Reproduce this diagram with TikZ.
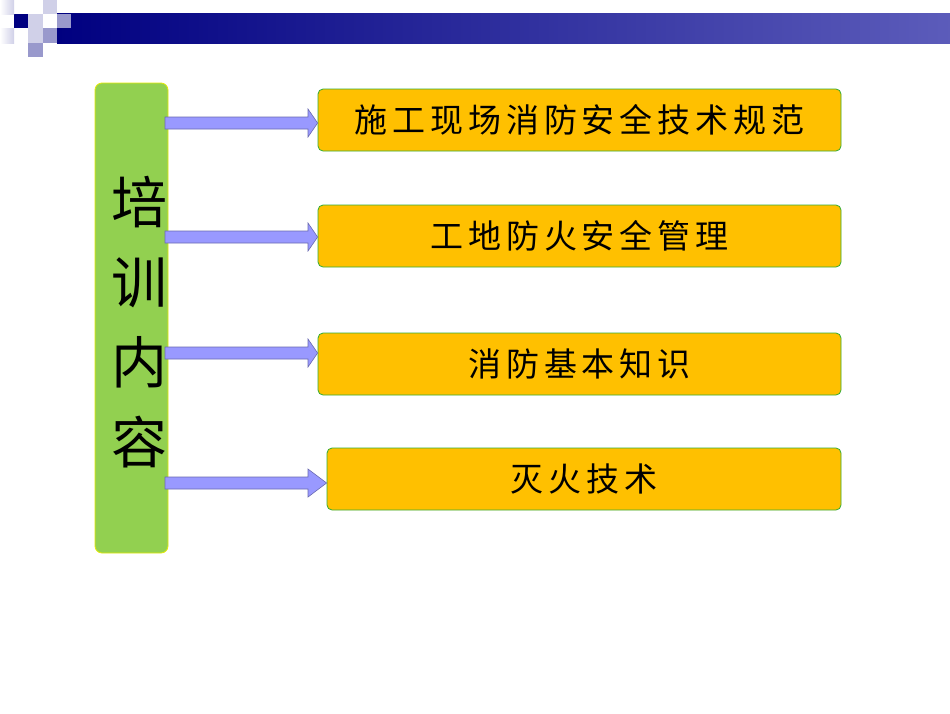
\documentclass[tikz,border=0pt]{standalone}
\usepackage{fontspec}
\newfontfamily\cjk[LetterSpace=15]{Noto Sans CJK SC}
\newfontfamily\cjkv{Noto Sans CJK SC}
\usetikzlibrary{shapes.arrows}
\definecolor{navy}{HTML}{000080}
\definecolor{lav}{HTML}{D0D0E8}
\definecolor{midlav}{HTML}{9999CC}
\definecolor{orng}{HTML}{FFC000}
\definecolor{grn}{HTML}{92D050}
\definecolor{arr}{HTML}{9999FF}
\tikzset{
 topic/.style={draw=green!60!black!80, fill=orng, rounded corners=5pt, line width=0.8pt, font=\cjk\fontsize{33}{33}\selectfont, inner sep=0pt},
 arw/.style={draw=arr!70!black, fill=arr, line width=0.6pt},
}
\begin{document}
\begin{tikzpicture}[x=1pt,y=-1pt]
\useasboundingbox (0,0) rectangle (950,713);
\fill[white] (0,0) rectangle (950,713);
% header
\shade[left color=navy, right color=navy!60!white!90!blue] (57,13) rectangle (950,43);
\fill[navy] (14,14) rectangle (28,28);
\shade[left color=white, right color=lav] (0,0) rectangle (14,14);
\shade[left color=white, right color=lav] (0,28) rectangle (14,43);
\fill[lav] (28,14) rectangle (43,28);
\fill[lav] (43,0) rectangle (57,14);
\fill[midlav] (57,14) rectangle (71,28);
\fill[lav] (28,28) rectangle (43,43);
\fill[midlav] (43,28) rectangle (57,43);
\fill[midlav] (28,43) rectangle (43,57);
% left box
\node[draw=yellow!90!green, fill=grn, rounded corners=7pt, line width=0.8pt, minimum width=73pt, minimum height=470pt, inner sep=0pt] (main) at (131.5,318) {};
\node[font=\cjkv\fontsize{56}{80}\selectfont, align=center] (mt) at (139,322) {培\\训\\内\\容};
% topics
\node[topic, minimum width=523pt, minimum height=62pt] (t1) at (579.5,120) {施工现场消防安全技术规范};
\node[topic, minimum width=523pt, minimum height=62pt] (t2) at (579.5,236) {工地防火安全管理};
\node[topic, minimum width=523pt, minimum height=62pt] (t3) at (579.5,364) {消防基本知识};
\node[topic, minimum width=514pt, minimum height=62pt] (t4) at (584,479) {灭火技术};
% arrows
\foreach \y/\t in {123/t1,237/t2,353/t3,483/t4}{
 \draw[arw] (165,\y-6) -- (308,\y-6) -- (308,\y-14) -- (\t.west |- 0,\y) -- (308,\y+14) -- (308,\y+6) -- (165,\y+6) -- cycle;
}
\end{tikzpicture}
\end{document}
